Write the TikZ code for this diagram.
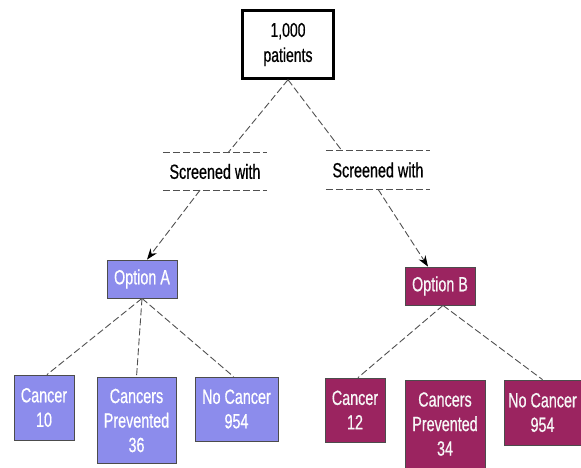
\documentclass[tikz,border=0pt]{standalone}
\usepackage{fontspec}
\setmainfont{Liberation Sans}[FakeStretch=0.7,FakeBold=0.6]
\usetikzlibrary{arrows.meta}
\definecolor{optA}{RGB}{140,140,236}
\definecolor{optB}{RGB}{155,36,96}
\definecolor{edgegray}{RGB}{80,80,80}
\tikzset{
  conn/.style={draw=edgegray, line width=0.9pt, dash pattern=on 7pt off 3pt},
  arr/.style={conn, -{Stealth[length=11pt,width=8pt,color=black]}},
  boxbase/.style={rectangle, inner sep=0pt, align=center,
    font=\fontsize{20.5pt}{24.5pt}\selectfont},
  topbox/.style={boxbase, draw=black, line width=2.4pt, fill=white,
    font=\fontsize{20pt}{25pt}\selectfont},
  labelbox/.style={boxbase, font=\fontsize{20.5pt}{22pt}\selectfont},
  aboxes/.style={boxbase, draw=black!70, line width=0.8pt, fill=optA, text=white},
  bboxes/.style={boxbase, draw=black!70, line width=0.8pt, fill=optB, text=white!94!gray},
  sz/.style 2 args={minimum width=#1pt, minimum height=#2pt},
}
\begin{document}
\begin{tikzpicture}[x=1pt,y=-1pt]
\useasboundingbox (0,0) rectangle (581,468);
\node[topbox, sz={91}{68}] (top) at (288,44.5) {1,000\\patients};
\node[labelbox, sz={104}{37}] (sl) at (215,171.5) {Screened with};
\node[labelbox, sz={104}{38}] (sr) at (378,170) {Screened with};
\draw[conn, line width=0.7pt] (sl.north west) -- (sl.north east);
\draw[conn, line width=0.7pt] (sl.south west) -- (sl.south east);
\draw[conn, line width=0.7pt] (sr.north west) -- (sr.north east);
\draw[conn, line width=0.7pt] (sr.south west) -- (sr.south east);

\node[aboxes, sz={70}{38}] (oa) at (142,279) {Option A};
\node[bboxes, sz={70}{38}] (ob) at (440,286) {Option B};

\node[aboxes, sz={60}{65}] (c10) at (44,407.5) {Cancer\\10};
\node[aboxes, sz={79}{86}] (p36) at (136.5,420.5) {Cancers\\Prevented\\36};
\node[aboxes, sz={83}{64}] (n954a) at (236.5,409) {No Cancer\\954};

\node[bboxes, sz={60}{64}] (c12) at (355,410) {Cancer\\12};
\node[bboxes, sz={80}{88}] (p34) at (445,424) {Cancers\\Prevented\\34};
\node[bboxes, sz={77}{65}] (n954b) at (542.5,412.5) {No Cancer\\954};

\draw[conn] (top.south) -- ([xshift=13pt]sl.north);
\draw[conn] (top.south) -- ([xshift=-36pt]sr.north);
\draw[arr] ([xshift=-15pt]sl.south) -- ([xshift=5pt]oa.north);
\draw[arr] (sr.south) -- ([xshift=-12pt]ob.north);

\draw[conn] (oa.south) -- ([xshift=3pt]c10.north);
\draw[conn] (oa.south) -- (p36.north);
\draw[conn] (oa.south) -- ([xshift=-3pt]n954a.north);

\draw[conn] ([xshift=3pt]ob.south) -- ([xshift=3pt]c12.north);
\draw[conn] ([xshift=3pt]ob.south) -- ([xshift=0pt]n954b.north);
\end{tikzpicture}
\end{document}
